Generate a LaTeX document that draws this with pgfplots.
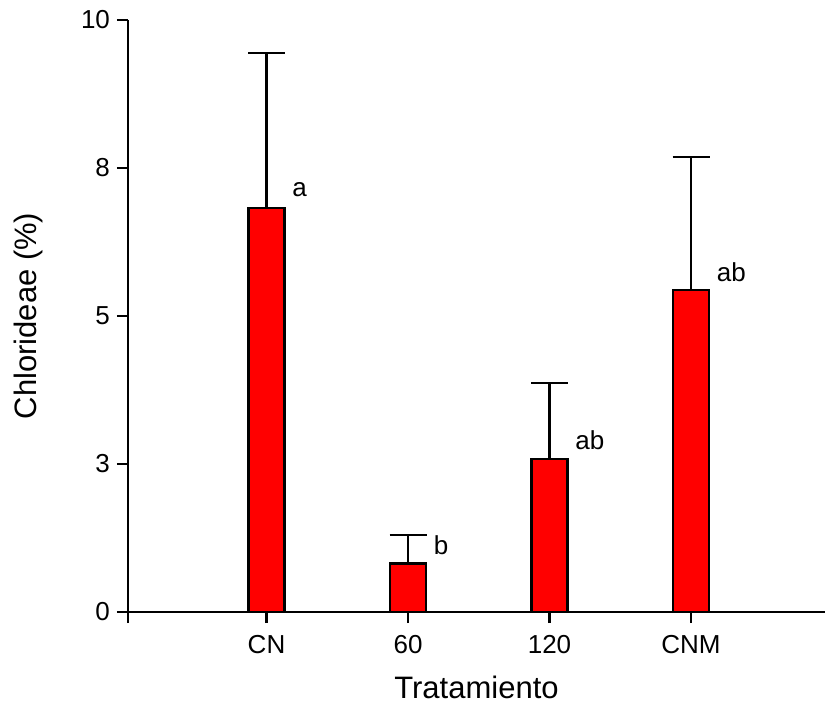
\documentclass[border=0pt]{standalone}
\usepackage{pgfplots}
\pgfplotsset{compat=1.18}
\usepackage{fontspec}
\setmainfont{Liberation Sans}
\begin{document}
\begin{tikzpicture}
\path[use as bounding box] (-64pt,-45pt) rectangle (348.5pt,306pt);
\begin{axis}[
  at={(0,0)}, anchor=south west,
  scale only axis, width=348.5pt, height=296pt,
  xmin=-0.979, xmax=3.947, ymin=0, ymax=10,
  axis x line=bottom, axis y line=left,
  axis line style={-, line width=1.05pt},
  tick style={line width=1.05pt, black},
  tick align=outside, major tick length=5.5pt,
  xtick={-0.979,0,1,2,3}, xticklabels={,CN,60,120,CNM},
  ytick={0,2.5,5,7.5,10}, yticklabels={0,3,5,8,10},
  ticklabel style={font=\fontsize{13}{15}\selectfont},
  xticklabel style={yshift=-2.5pt},
  label style={font=\fontsize{15.5}{18}\selectfont},
  xlabel={Tratamiento}, ylabel={Chlorideae (\%)},
  xlabel style={at={(axis description cs:0.5,-0.127)}, anchor=center},
  ylabel style={at={(axis description cs:-0.1435,0.5)}, anchor=center},
  clip=false,
]
\addplot[ybar, bar width=18pt, bar shift=0pt, fill=red, draw=black, line width=1.1pt,
  error bars/.cd, y dir=plus, y explicit,
  error bar style={line width=1.05pt, black},
  error mark options={rotate=90, line width=1.05pt, black, mark size=9.25pt}]
coordinates {
  (0,6.83) +- (0,2.62)
  (1,0.82) +- (0,0.48)
  (2,2.58) +- (0,1.29)
  (3,5.44) +- (0,2.25)
};
\node[anchor=west, inner sep=0pt, font=\fontsize{13}{15}\selectfont] at (axis cs:0.18,7.14) {a};
\node[anchor=west, inner sep=0pt, font=\fontsize{13}{15}\selectfont] at (axis cs:1.18,1.12) {b};
\node[anchor=west, inner sep=0pt, font=\fontsize{13}{15}\selectfont] at (axis cs:2.18,2.9) {ab};
\node[anchor=west, inner sep=0pt, font=\fontsize{13}{15}\selectfont] at (axis cs:3.18,5.74) {ab};
\end{axis}
\end{tikzpicture}
\end{document}
